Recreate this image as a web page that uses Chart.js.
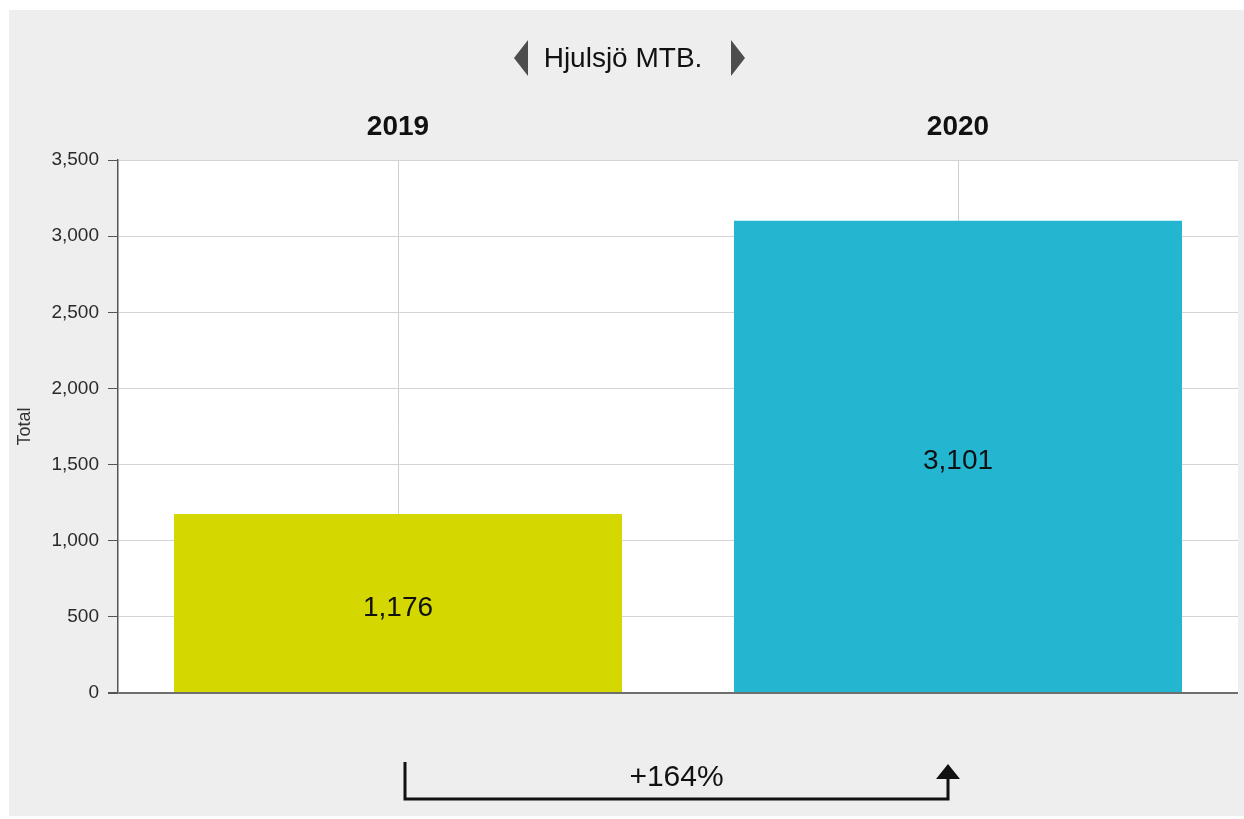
<!DOCTYPE html>
<html>
<head>
<meta charset="utf-8">
<script src="https://cdn.jsdelivr.net/npm/chart.js@4/dist/chart.umd.min.js"></script>
<style>
  body{margin:0;background:#fff;}
  canvas{display:block;}
</style>
</head>
<body>
<canvas id="barChart" width="1244" height="819"></canvas>
<script>
/* DATA */
const years = ["2019", "2020"];
const totals = [1176, 3101];
const barColors = ["#d4d700", "#24b6d1"];
const yTicks = [0, 500, 1000, 1500, 2000, 2500, 3000, 3500];
const chartTitle = "Hjulsjö MTB.";
const yTitle = "Total";

const FONT = "'Liberation Sans', Arial, sans-serif";

/* BACKGROUND + PLOT AREA */
const panelPlugin = {
  id: "panel",
  beforeDraw(chart){
    const c = chart.ctx;
    const a = chart.chartArea;
    c.save();
    c.fillStyle = "#eeeeee";
    c.fillRect(9, 10, chart.width - 9, chart.height - 13);
    c.fillStyle = "#ffffff";
    c.fillRect(a.left, a.top, a.right - a.left, a.bottom - a.top);
    c.restore();
  }
};

/* TITLE WITH ARROWS */
function arrow(c, x, y, dir){
  // dir -1 = left, 1 = right
  c.beginPath();
  c.moveTo(x, y - 18);
  c.lineTo(x + dir * 14, y);
  c.lineTo(x, y + 18);
  c.closePath();
  c.fill();
}

const titlePlugin = {
  id: "titleArrows",
  afterDraw(chart){
    const c = chart.ctx;
    const cx = chart.width / 2;
    c.save();
    c.font = "28px " + FONT;
    c.fillStyle = "#111";
    c.textAlign = "center";
    c.textBaseline = "middle";
    c.fillText(chartTitle, cx + 1, 59);
    c.fillStyle = "#4d4d4d";
    arrow(c, cx - 94, 58, -1);
    arrow(c, cx + 109, 58, 1);
    c.restore();
  }
};

/* VALUE LABELS + CHANGE ARROW */
const labelPlugin = {
  id: "valueLabels",
  afterDatasetsDraw(chart){
    const c = chart.ctx;
    const meta = chart.getDatasetMeta(0);
    c.save();
    c.font = "28px " + FONT;
    c.fillStyle = "#111";
    c.textAlign = "center";
    c.textBaseline = "middle";
    meta.data.forEach((bar, i)=>{
      c.fillText(totals[i].toLocaleString("en-US"), bar.x, (bar.y + bar.base) / 2 + 5);
    });

    // bracket under the chart
    const x = chart.scales.x;
    const a = chart.chartArea;
    const x0 = x.getPixelForValue(0) + 7;
    const x1 = x.getPixelForValue(1) - 10;
    const yLine = a.bottom + 106;
    c.strokeStyle = "#111";
    c.fillStyle = "#111";
    c.lineWidth = 3;
    c.lineJoin = "miter";
    c.beginPath();
    c.moveTo(x0, a.bottom + 69);
    c.lineTo(x0, yLine);
    c.lineTo(x1, yLine);
    c.lineTo(x1, a.bottom + 82);
    c.stroke();
    c.beginPath();
    c.moveTo(x1, a.bottom + 71);
    c.lineTo(x1 + 12, a.bottom + 86);
    c.lineTo(x1 - 12, a.bottom + 86);
    c.closePath();
    c.fill();

    let pct = Math.round((totals[1] - totals[0]) / totals[0] * 100);
    c.font = "30px " + FONT;
    c.fillText((pct >= 0 ? "+" : "") + pct + "%", (x0 + x1) / 2, a.bottom + 85);
    c.restore();
  }
};

/* CHART */
const barChart = new Chart(document.getElementById("barChart"), {
  type: "bar",
  data: {
    labels: years,
    datasets: [{
      data: totals,
      backgroundColor: barColors,
      borderWidth: 0,
      barPercentage: 0.8,
      categoryPercentage: 1
    }]
  },
  options: {
    responsive: false,
    animation: false,
    layout: { padding: { left: 0, top: 0, right: 6, bottom: 126 } },
    plugins: {
      legend: { display: false },
      tooltip: { enabled: false }
    },
    scales: {
      x: {
        position: "top",
        offset: true,
        grid: { offset: false, color: "#cfcfcf", drawTicks: false },
        border: { display: false },
        ticks: {
          padding: 16,
          color: "#111",
          font: { family: FONT, size: 28, weight: "bold" }
        },
        afterFit(scale){ scale.height = 160; }
      },
      y: {
        min: 0,
        max: 3500,
        afterBuildTicks(scale){
          scale.ticks = yTicks.map(v => ({ value: v }));
        },
        grid: {
          color: ctx => ctx.tick && ctx.tick.value === 0 ? "#6f6f6f" : "#d4d4d4",
          lineWidth: ctx => ctx.tick && ctx.tick.value === 0 ? 2 : 1,
          tickColor: "#555",
          tickLength: 10
        },
        border: { color: "#555", width: 1.5 },
        ticks: {
          padding: 9,
          color: "#2a2a2a",
          font: { family: FONT, size: 19 },
          callback: v => v.toLocaleString("en-US")
        },
        title: {
          display: true,
          text: yTitle,
          color: "#333",
          padding: { top: 14, bottom: 0 },
          font: { family: FONT, size: 18 }
        },
        afterFit(scale){ scale.width = 118; }
      }
    }
  },
  plugins: [panelPlugin, titlePlugin, labelPlugin]
});
</script>
</body>
</html>
